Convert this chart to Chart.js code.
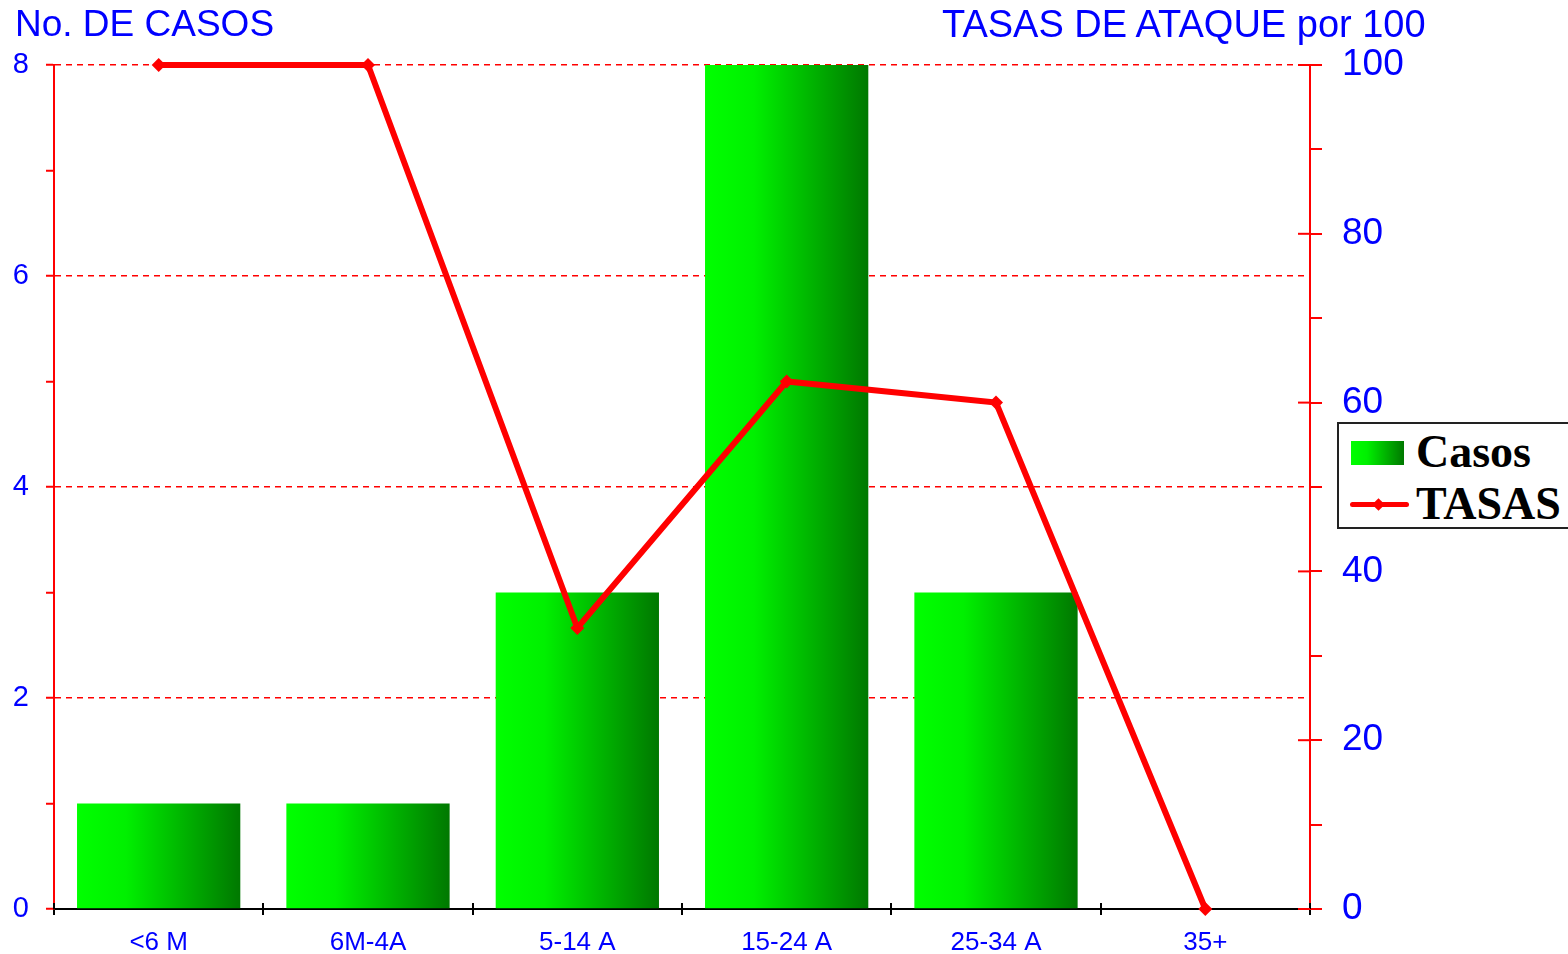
<!DOCTYPE html>
<html>
<head>
<meta charset="utf-8">
<script src="https://cdn.jsdelivr.net/npm/chart.js@4"></script>
<style>
  html, body { margin: 0; padding: 0; background: #fff; overflow: hidden; }
  #wrap { position: relative; width: 1568px; height: 954px; }
  .axtitle { position: absolute; top: 3px; font: 37px "Liberation Sans", Arial, sans-serif; color: #0000ff; white-space: nowrap; }
  #legend { position: absolute; left: 1337px; top: 422px; width: 260px; height: 103px; border: 2px solid #222; background: #fff; }
  .row { position: absolute; left: 0; font: bold 46px/46px "Liberation Serif", "Times New Roman", serif; color: #000; }
  .swatch { position: absolute; left: 12px; top: 17px; width: 53px; height: 24px; background: linear-gradient(to right, #00ff00 0%, #00f000 30%, #007800 100%); }
  .lsample { position: absolute; left: 11px; top: 78px; width: 59px; height: 5px; background: #ff0000; border-radius: 3px; }
  .ldot { position: absolute; left: 35px; top: 76px; width: 9px; height: 9px; background: #ff0000; transform: rotate(45deg); }
</style>
</head>
<body>
<div id="wrap">
  <canvas id="chart"></canvas>
  <div class="axtitle" style="left:15px">No. DE CASOS</div>
  <div class="axtitle" style="left:942px; font-size:38px">TASAS DE ATAQUE por 100</div>
  <div id="legend">
    <div class="swatch"></div>
    <div class="row" style="left:77px; top:5px">Casos</div>
    <div class="lsample"></div><div class="ldot"></div>
    <div class="row" style="left:77px; top:57px">TASAS</div>
  </div>
</div>
<script>
// data
const categories = ["<6 M", "6M-4A", "5-14 A", "15-24 A", "25-34 A", "35+"];
const casos = [1, 1, 3, 8, 3, 0];
const tasas = [100, 100, 33.3, 62.5, 60, 0];

const BLUE = "#0000ff";
const RED = "#ff0000";
const BAR_PCT = 0.78;

function barGradient(ctx) {
  const chart = ctx.chart;
  const xs = chart.scales && chart.scales.x;
  if (!chart.chartArea || !xs || ctx.dataIndex === undefined) return "#00d000";
  const cx = xs.getPixelForValue(ctx.dataIndex);
  const w = xs.width / categories.length * BAR_PCT;
  const g = chart.ctx.createLinearGradient(cx - w / 2, 0, cx + w / 2, 0);
  g.addColorStop(0, "#00ff00");
  g.addColorStop(0.3, "#00f000");
  g.addColorStop(1, "#007800");
  return g;
}

// short tick parts pointing into the plot (x axis and right axis majors)
const innerTicks = {
  id: "innerTicks",
  afterDraw(chart) {
    const c = chart.ctx;
    const xs = chart.scales.x, yr = chart.scales.y1;
    const bottom = chart.chartArea.bottom;
    c.save();
    c.lineWidth = 2;
    c.strokeStyle = "#000";
    const step = xs.width / categories.length;
    for (let i = 0; i <= categories.length; i++) {
      const px = Math.round(xs.left + i * step);
      c.beginPath(); c.moveTo(px, bottom); c.lineTo(px, bottom - 6); c.stroke();
    }
    c.strokeStyle = RED;
    yr.ticks.forEach(t => {
      if (t.value % 20 !== 0) return;
      const py = yr.getPixelForValue(t.value);
      c.beginPath(); c.moveTo(yr.left, py); c.lineTo(yr.left - 12, py); c.stroke();
    });
    c.restore();
  }
};

new Chart(document.getElementById("chart"), {
  type: "bar",
  data: {
    labels: categories,
    datasets: [
      {
        type: "line",
        label: "TASAS",
        data: tasas,
        yAxisID: "y1",
        borderColor: RED,
        backgroundColor: RED,
        borderWidth: 6,
        pointStyle: "rectRot",
        pointRadius: 7,
        pointBorderWidth: 0,
        tension: 0,
        clip: false,
        order: 0
      },
      {
        label: "Casos",
        data: casos,
        yAxisID: "y",
        backgroundColor: barGradient,
        borderWidth: 0,
        categoryPercentage: BAR_PCT,
        barPercentage: 1,
        order: 1
      }
    ]
  },
  options: {
    responsive: true,
    maintainAspectRatio: false,
    animation: false,
    layout: { padding: { top: 65, left: 0, right: 0, bottom: 0 } },
    plugins: { legend: { display: false }, tooltip: { enabled: false } },
    scales: {
      x: {
        afterFit(s) { s.height = 45; },
        border: { color: "#000", width: 2 },
        grid: { offset: true, drawOnChartArea: false, color: "#000", lineWidth: 2, tickLength: 6 },
        ticks: { color: BLUE, font: { family: "Liberation Sans", size: 26 }, padding: 12, maxRotation: 0 }
      },
      y: {
        position: "left",
        min: 0, max: 8,
        afterFit(s) { s.width = 54; },
        border: { color: RED, width: 2, dash: [6, 5] },
        grid: {
          color: c => (c.tick && c.tick.value > 0 && c.tick.value % 2 === 0) ? RED : "rgba(0,0,0,0)",
          tickColor: RED,
          lineWidth: 1.5,
          tickWidth: 2,
          tickLength: 8,
          tickBorderDash: []
        },
        ticks: {
          stepSize: 1,
          color: BLUE,
          font: { family: "Liberation Sans", size: 29 },
          padding: 17,
          callback: v => (v % 2 === 0 ? v : "")
        }
      },
      y1: {
        position: "right",
        min: 0, max: 100,
        afterFit(s) { s.width = 1568 - 1310; },
        border: { color: RED, width: 2 },
        grid: { drawOnChartArea: false, color: RED, lineWidth: 2, tickLength: 12 },
        ticks: {
          stepSize: 10,
          color: BLUE,
          font: { family: "Liberation Sans", size: 37 },
          padding: 20,
          callback: v => (v % 20 === 0 ? v : "")
        }
      }
    }
  },
  plugins: [innerTicks]
});
</script>
</body>
</html>
